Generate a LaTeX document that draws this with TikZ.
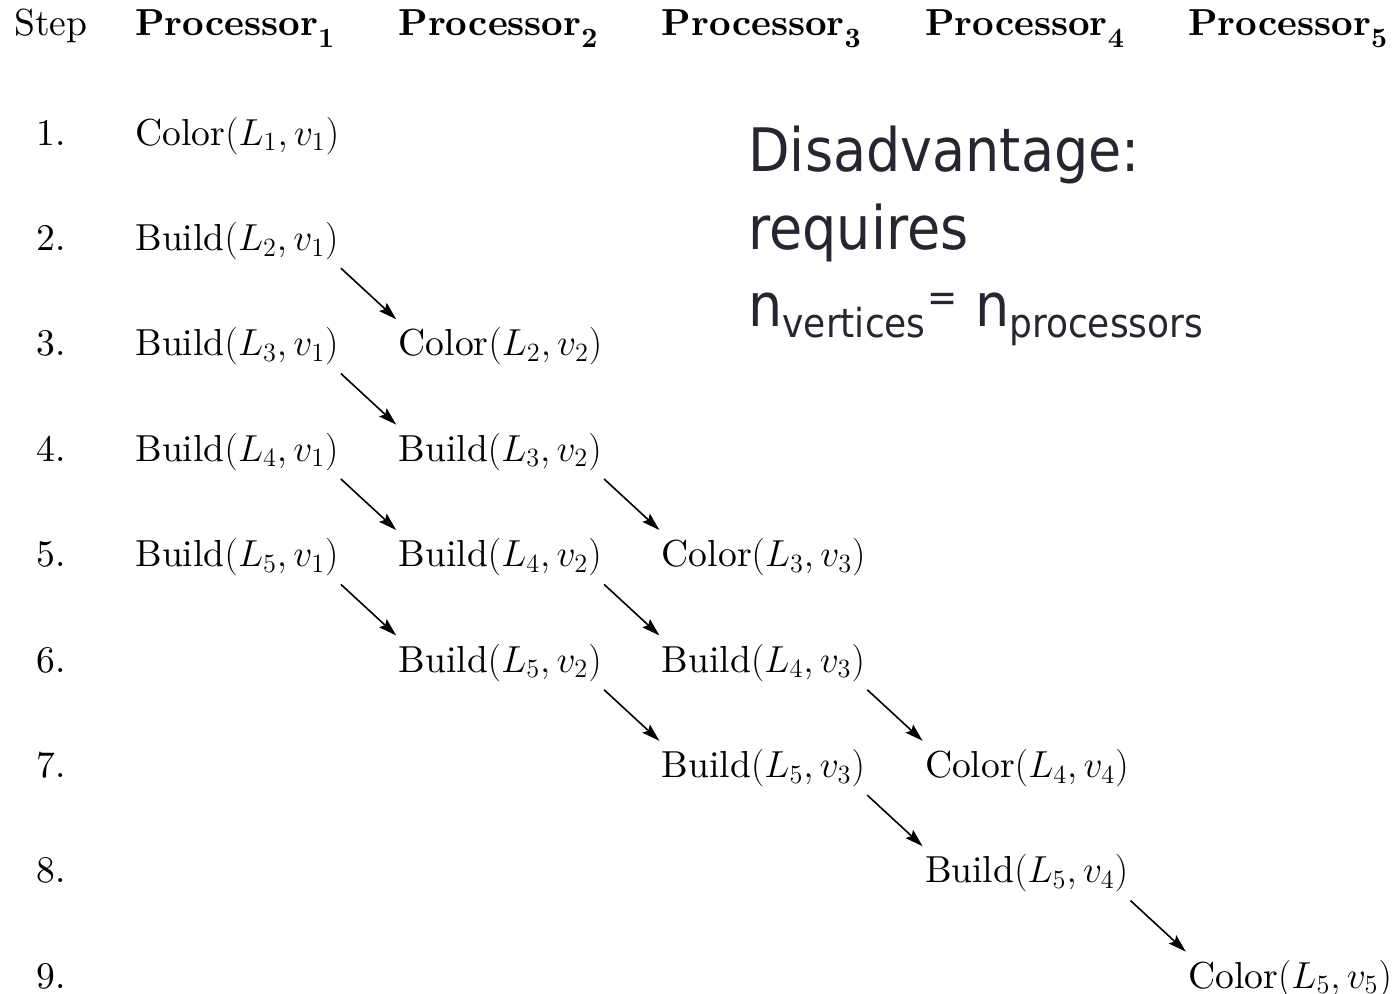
\RequirePackage{fix-cm}
\documentclass[tikz,border=0pt]{standalone}
\usepackage{fontspec}
\setmainfont{lmroman10-regular.otf}[BoldFont=lmroman10-bold.otf,
    ItalicFont=lmroman10-italic.otf]
\usepackage{tikz}
\usetikzlibrary{matrix,arrows.meta}

\newfontfamily\notefont[FakeStretch=0.9]{DejaVu Sans}
\definecolor{noteink}{RGB}{38,38,48}
\newcommand{\proc}[1]{\textbf{Processor}\raisebox{-6pt}{\fontsize{14}{16}\selectfont\bfseries #1}}
\newcommand{\lowsub}[1]{\raisebox{-5pt}{\fontsize{20}{24}\selectfont #1}}
\newcommand{\highsup}[1]{\raisebox{7.5pt}{\fontsize{20}{24}\selectfont #1}}

\tikzset{
    flow/.style={-{Stealth[length=9pt,width=5.5pt,inset=1.5pt]}, line width=0.8pt},
    notetext/.style={font=\notefont\fontsize{30}{38.75}\selectfont, text=noteink,
        align=left, inner sep=0pt}
}

\begin{document}
\begin{tikzpicture}
    \useasboundingbox (0,0) rectangle (697.5pt,-497pt);

    %\matrix[matrix of nodes,nodes={draw}] {
    \matrix (m) [matrix of nodes,
        matrix anchor=m-1-1.base,
        column sep={131.6pt,between origins},
        row sep={52.7pt,between origins},
        nodes={anchor=base west, inner xsep=1pt, inner ysep=4pt,
            font=\fontsize{18.8}{22}\selectfont},
        column 1/.style={nodes={anchor=base, xshift=90.6pt}} ] at (25.5pt,-17.5pt) {
Step & \proc{1} & \proc{2} & \proc{3} & \proc{4} & \proc{5} \\[2.3pt]
1. & $\mathrm{Color}(L_1, v_1)$ & & & & \\
2. & $\mathrm{Build}(L_2, v_1)$ & & & & \\
3. & $\mathrm{Build}(L_3, v_1)$ & $\mathrm{Color}(L_2, v_2)$ & & & \\
4. & $\mathrm{Build}(L_4, v_1)$ & $\mathrm{Build}(L_3, v_2)$ & & & \\
5. & $\mathrm{Build}(L_5, v_1)$ & $\mathrm{Build}(L_4, v_2)$ & $\mathrm{Color}(L_3, v_3)$ & & \\
6. & & $\mathrm{Build}(L_5, v_2)$ & $\mathrm{Build}(L_4, v_3)$ & & \\
7. & & & $\mathrm{Build}(L_5, v_3)$ & $\mathrm{Color}(L_4, v_4)$ & \\
8. & & & & $\mathrm{Build}(L_5, v_4)$ & \\
9. & & & & & $\mathrm{Color}(L_5, v_5)$ \\
    };

    \foreach \a/\b in {3-2/4-3, 4-2/5-3, 5-2/6-3, 6-2/7-3,
                       5-3/6-4, 6-3/7-4, 7-3/8-4,
                       7-4/8-5, 8-4/9-5, 9-5/10-6}
        \draw[flow] (m-\a.south east) -- (m-\b.north west);

    % base of a multi-line node sits on its last line
    \node[notetext, anchor=base west] (drawback) at (374pt,-163.5pt)
        {Disadvantage:\\ requires\\ n\lowsub{vertices}\kern1pt\highsup{=} n\lowsub{processors}};
\end{tikzpicture}
\end{document}
